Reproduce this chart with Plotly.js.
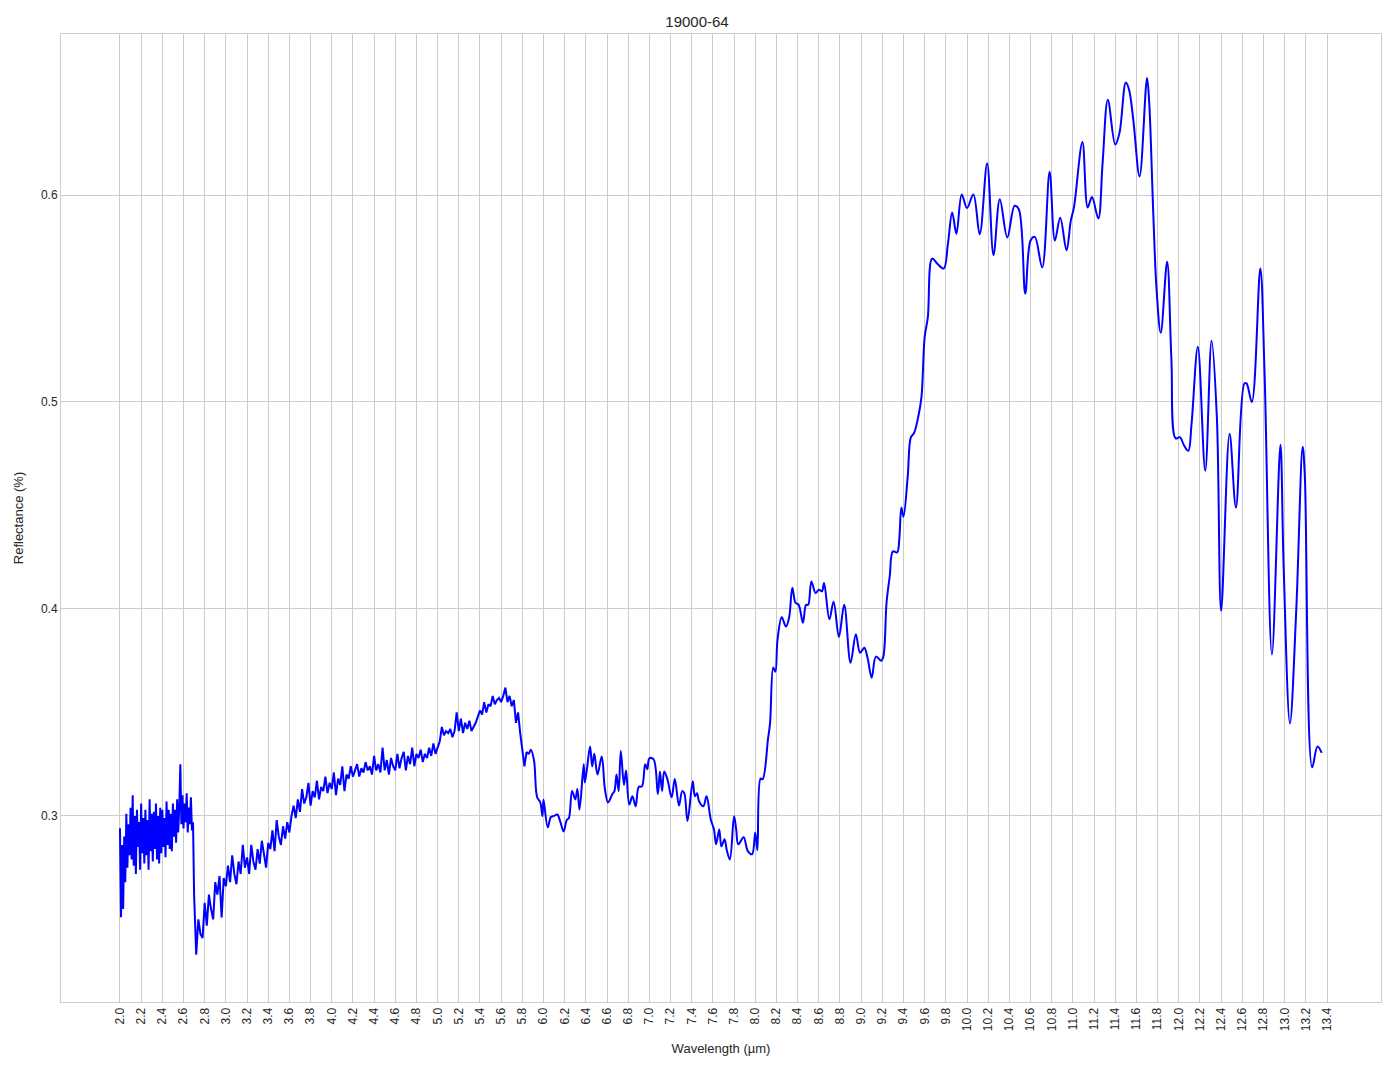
<!DOCTYPE html>
<html>
<head>
<meta charset="utf-8">
<script src="https://cdn.plot.ly/plotly-3.0.1.min.js"></script>
<style>html,body{margin:0;padding:0;background:#fff;}#chart{width:1394px;height:1069px;}</style>
</head>
<body>
<div id="chart"></div>
<script>
// ---- Data ----
const chartTitle = "19000-64";
const xAxisTitle = "Wavelength (µm)";
const yAxisTitle = "Reflectance (%)";

// Noisy segment 1: regular sampling
const seg1Start = 2.00, seg1Step = 0.01;
const seg1Refl = [
0.294,0.251,0.286,0.255,0.290,0.268,0.301,0.275,0.296,0.281,
0.304,0.279,0.310,0.276,0.300,0.272,0.303,0.285,0.297,0.274,
0.306,0.282,0.299,0.277,0.303,0.281,0.298,0.274,0.308,0.283,
0.301,0.278,0.302,0.284,0.306,0.279,0.300,0.277,0.304,0.282,
0.303,0.285,0.299,0.280,0.307,0.286,0.303,0.284,0.301,0.283,
0.306,0.290,0.303,0.287,0.308,0.292,0.304,0.325,0.296,0.310,
0.294,0.306,0.297,0.311,0.292,0.304,0.296,0.309,0.293,0.297,
0.262,0.245
];

// Noisy segment 2: regular sampling
const seg2Start = 2.72, seg2Step = 0.02;
const seg2Refl = [
0.233,0.250,0.243,0.241,0.258,0.247,0.262,0.255,0.250,0.268,
0.262,0.271,0.251,0.270,0.266,0.276,0.268,0.281,0.272,0.267,
0.278,0.272,0.286,0.275,0.280,0.272,0.286,0.278,0.274,0.284,
0.277,0.288,0.281,0.275,0.287,0.284,0.293,0.283,0.298,0.290,
0.286,0.295,0.289,0.297,0.292,0.300,0.305,0.299,0.308,0.302,
0.313,0.306,0.309,0.316,0.305,0.312,0.309,0.317,0.308,0.314,
0.312,0.319,0.311,0.316,0.313,0.321,0.310,0.318,0.315,0.324,
0.312,0.320,0.318,0.324,0.319,0.322,0.325,0.319,0.323,0.321,
0.326,0.322,0.324,0.320,0.329,0.322,0.325,0.321,0.333,0.322,
0.327,0.320,0.328,0.324,0.322,0.330,0.323,0.328,0.331,0.322,
0.329,0.325,0.333,0.324,0.330,0.328,0.332,0.326,0.330,0.328,
0.333,0.329,0.335,0.330,0.333,0.336,0.343,0.339,0.341,0.340,
0.342,0.338,0.341,0.350,0.341,0.347,0.340,0.345,0.342,0.346,
0.341,0.343,0.345,0.348,0.351,0.349,0.355,0.350,0.354,0.353,
0.358,0.354,0.356,0.357,0.355,0.358,0.362,0.355,0.358,0.353,
0.356,0.345,0.350,0.340,0.333,0.324,0.331
];

// Smoother segment: key points
const seg3Wl = [
5.86,5.88,5.91,5.94,5.97,5.99,6.00,6.04,6.07,6.10,6.13,6.16,6.19,6.22,6.24,6.27,6.30,6.32,6.34,6.38,
6.39,6.41,6.44,6.46,6.48,6.51,6.55,6.58,6.61,6.65,6.67,6.69,6.71,6.73,6.76,6.78,6.81,6.84,6.87,6.90,
6.93,6.96,6.98,7.00,7.04,7.08,7.10,7.12,7.14,7.17,7.21,7.24,7.28,7.31,7.33,7.36,7.41,7.43,7.45,7.47,
7.51,7.54,7.58,7.61,7.63,7.66,7.68,7.71,7.73,7.76,7.80,7.82,7.84,7.89,7.93,7.97,8.00,8.02,8.05,8.07,
8.12,8.14,8.17,8.19,8.21,8.25,8.29,8.32,8.35,8.38,8.41,8.45,8.48,8.50,8.53,8.57,8.60,8.63,8.65,8.70,
8.74,8.79,8.84,8.90,8.95,8.99,9.03,9.06,9.10,9.14,9.19,9.21,9.24,9.27,9.30,9.34,9.36,9.38,9.40,9.44,
9.47,9.50,9.54,9.57,9.60,9.63,9.67,9.72,9.78,9.82,9.86,9.90,9.95,10.00,10.06,10.12,10.19,10.25,10.31,10.38,
10.45,10.49,10.55,10.60,10.64,10.71,10.78,10.83,10.88,10.94,10.98,11.01,11.09,11.14,11.18,11.24,11.28,11.33,11.40,11.44,
11.50,11.53,11.57,11.63,11.70,11.72,11.76,11.79,11.83,11.89,11.93,11.97,12.01,12.05,12.09,12.12,12.18,12.25,12.31,12.36,
12.40,12.48,12.54,12.62,12.64,12.69,12.77,12.81,12.88,12.96,12.99,13.05,13.11,13.17,13.19,13.26,13.31,13.35
];
const seg3Refl = [
0.330,0.332,0.327,0.309,0.3065,0.300,0.308,0.2945,0.2995,0.300,0.3007,0.297,0.2925,0.298,0.299,0.312,0.308,0.313,0.303,0.325,
0.3162,0.3225,0.3335,0.324,0.330,0.320,0.3287,0.313,0.3065,0.3105,0.312,0.320,0.312,0.3315,0.315,0.322,0.3055,0.3095,0.3047,0.314,
0.3143,0.325,0.3225,0.3278,0.3273,0.3105,0.3215,0.312,0.3215,0.3178,0.309,0.3178,0.305,0.312,0.311,0.2975,0.3167,0.3095,0.311,0.307,
0.3047,0.3095,0.2983,0.2935,0.2863,0.2935,0.2853,0.2887,0.2838,0.279,0.2998,0.2935,0.2863,0.2897,0.283,0.2815,0.292,0.2835,0.318,0.3177,
0.337,0.345,0.3717,0.3697,0.385,0.396,0.3915,0.3958,0.4103,0.403,0.402,0.3933,0.402,0.402,0.4133,0.4077,0.4093,0.4085,0.4126,0.395,
0.4035,0.3865,0.402,0.374,0.3878,0.3788,0.3813,0.3765,0.3668,0.377,0.375,0.377,0.403,0.4157,0.4278,0.4273,0.4335,0.449,0.4446,0.464,
0.483,0.485,0.493,0.5025,0.5313,0.541,0.5693,0.5668,0.5645,0.5765,0.5915,0.5813,0.6003,0.5937,0.6003,0.581,0.6153,0.571,0.598,0.5795,
0.5948,0.593,0.5523,0.578,0.5798,0.565,0.6113,0.578,0.589,0.5733,0.5875,0.594,0.6256,0.594,0.599,0.5887,0.615,0.646,0.6244,0.630,
0.6544,0.651,0.6366,0.609,0.6566,0.6455,0.590,0.5545,0.5334,0.5678,0.5212,0.4824,0.483,0.479,0.4764,0.489,0.5267,0.4668,0.5296,0.4923,
0.3991,0.4846,0.449,0.509,0.509,0.500,0.5645,0.5145,0.378,0.4794,0.4213,0.3447,0.400,0.4784,0.465,0.3235,0.3335,0.3305
];

const xTickLabels = ["2.0","2.2","2.4","2.6","2.8","3.0","3.2","3.4","3.6","3.8","4.0","4.2","4.4","4.6","4.8",
"5.0","5.2","5.4","5.6","5.8","6.0","6.2","6.4","6.6","6.8","7.0","7.2","7.4","7.6","7.8","8.0","8.2","8.4",
"8.6","8.8","9.0","9.2","9.4","9.6","9.8","10.0","10.2","10.4","10.6","10.8","11.0","11.2","11.4","11.6","11.8",
"12.0","12.2","12.4","12.6","12.8","13.0","13.2","13.4"];
const yTickLabels = ["0.3","0.4","0.5","0.6"];

// ---- Build traces ----
const noisyX = [], noisyY = [];
seg1Refl.forEach((v, i) => { noisyX.push(+(seg1Start + i * seg1Step).toFixed(3)); noisyY.push(v); });
seg2Refl.forEach((v, i) => { noisyX.push(+(seg2Start + i * seg2Step).toFixed(3)); noisyY.push(v); });
const smoothX = [noisyX[noisyX.length - 1]].concat(seg3Wl);
const smoothY = [noisyY[noisyY.length - 1]].concat(seg3Refl);

const lineStyle = {color: '#0000ff', width: 2};
const traces = [
  {x: noisyX, y: noisyY, type: 'scatter', mode: 'lines', line: lineStyle, hoverinfo: 'x+y'},
  {x: smoothX, y: smoothY, type: 'scatter', mode: 'lines', line: Object.assign({shape: 'spline', smoothing: 1}, lineStyle), hoverinfo: 'x+y'}
];

const fontFam = '"Liberation Sans", Arial, sans-serif';
const txtColor = '#262626';
const layout = {
  width: 1394, height: 1069,
  margin: {l: 61, r: 13, t: 34, b: 67, pad: 0},
  paper_bgcolor: '#ffffff', plot_bgcolor: '#ffffff',
  showlegend: false,
  font: {family: fontFam, color: txtColor, size: 12},
  title: {text: chartTitle, x: 0.5, xanchor: 'center', y: 1, yref: 'paper', yanchor: 'bottom', pad: {b: 7},
          font: {family: fontFam, size: 15, color: txtColor}},
  xaxis: {
    range: [1.443, 13.91],
    tickmode: 'array', tickvals: xTickLabels.map(Number), ticktext: xTickLabels,
    tickangle: -90, ticks: '', ticklen: 0,
    tickfont: {family: fontFam, size: 12, color: txtColor},
    showgrid: true, gridcolor: '#cccccc', gridwidth: 1,
    showline: true, linecolor: '#cccccc', linewidth: 1, mirror: true,
    zeroline: false,
    title: {text: xAxisTitle, font: {family: fontFam, size: 13, color: txtColor}, standoff: 13}
  },
  yaxis: {
    range: [0.2101, 0.6778],
    tickmode: 'array', tickvals: yTickLabels.map(Number), ticktext: yTickLabels,
    ticks: '', ticklen: 0,
    tickfont: {family: fontFam, size: 12, color: txtColor},
    showgrid: true, gridcolor: '#cccccc', gridwidth: 1,
    showline: true, linecolor: '#cccccc', linewidth: 1, mirror: true,
    zeroline: false,
    title: {text: yAxisTitle, font: {family: fontFam, size: 13, color: txtColor}, standoff: 14}
  }
};

Plotly.newPlot('chart', traces, layout, {displayModeBar: false, staticPlot: true});
</script>
</body>
</html>
